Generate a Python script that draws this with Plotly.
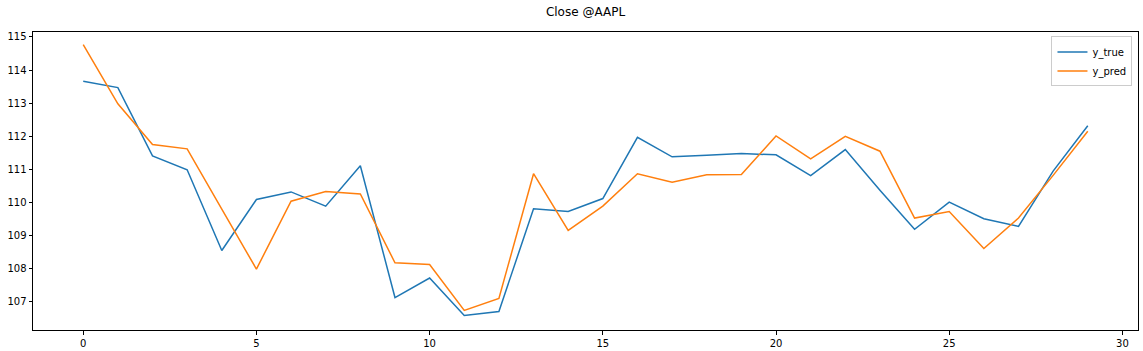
import plotly.graph_objects as go

x_idx = list(range(30))
y_true = [113.66, 113.47, 111.41, 110.99, 108.55, 110.09, 110.32, 109.89, 111.11, 107.13,
          107.72, 106.59, 106.71, 109.81, 109.73, 110.12, 111.97, 111.38, 111.43, 111.48,
          111.44, 110.81, 111.60, 110.37, 109.19, 110.01, 109.51, 109.28, 110.95, 112.32]
y_pred = [114.77, 112.98, 111.75, 111.62, 109.80, 107.99, 110.04, 110.33, 110.26, 108.18,
          108.13, 106.74, 107.10, 110.87, 109.16, 109.89, 110.87, 110.61, 110.84, 110.85,
          112.01, 111.32, 112.00, 111.55, 109.53, 109.73, 108.61, 109.53, 110.82, 112.15]
title_text = "Close @AAPL"

fig = go.Figure()
fig.add_trace(go.Scatter(x=x_idx, y=y_true, mode="lines", name="y_true",
                         line=dict(color="#1f77b4", width=1.5)))
fig.add_trace(go.Scatter(x=x_idx, y=y_pred, mode="lines", name="y_pred",
                         line=dict(color="#ff7f0e", width=1.5)))

axis_common = dict(showgrid=False, zeroline=False, showline=True, linecolor="#000000",
                   linewidth=1, mirror=True, ticks="outside", ticklen=3.5, tickwidth=0.8,
                   tickcolor="#000000", automargin=False,
                   tickfont=dict(family="DejaVu Sans", size=10, color="#000000"))

fig.update_xaxes(range=[-1.45, 30.45], tick0=0, dtick=5, **axis_common)
fig.update_yaxes(range=[106.15, 115.15], tick0=107, dtick=1, **axis_common)

fig.update_layout(
    width=1143, height=351,
    margin=dict(l=33, r=5, t=32, b=21, autoexpand=False),
    paper_bgcolor="white", plot_bgcolor="white",
    font=dict(family="DejaVu Sans", size=10, color="#000000"),
    title=dict(text=title_text, x=0.5, xanchor="center", xref="paper",
               y=1 - 12 / 351, yref="container", yanchor="middle",
               font=dict(family="DejaVu Sans", size=12, color="#000000")),
    legend=dict(x=0.995, xanchor="right", y=0.985, yanchor="top",
                bgcolor="rgba(255,255,255,0.8)", bordercolor="#cccccc", borderwidth=1,
                font=dict(family="DejaVu Sans", size=10, color="#000000"),
                itemwidth=30, tracegroupgap=0),
    showlegend=True,
)

fig.write_html("out.html")
